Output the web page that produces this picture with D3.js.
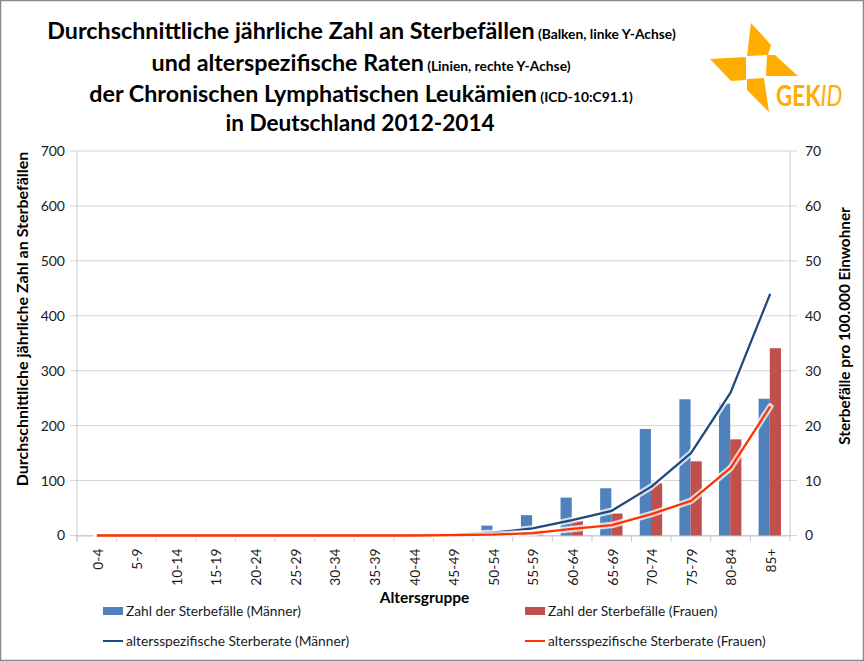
<!DOCTYPE html>
<html><head><meta charset="utf-8">
<script src="https://d3js.org/d3.v7.min.js"></script>
<style>html,body{margin:0;padding:0;background:#fff}svg{display:block}text{font-family:Lato,"Open Sans",sans-serif}</style>
</head><body><svg id="c" width="864" height="661"></svg>
<script>
const categories=["0-4","5-9","10-14","15-19","20-24","25-29","30-34","35-39","40-44","45-49","50-54","55-59","60-64","65-69","70-74","75-79","80-84","85+"];
const barsMen=[0,0,0,0,0,0,0,0,0,3,18,37,69,86,194,248,240,249];
const barsWomen=[0,0,0,0,0,0,0,0,0,1,5,9,26,40,95,135,175,341];
const rateMen=[0,0,0,0,0,0,0,0,0.05,0.15,0.5,1.3,2.8,4.5,8.9,15,26,44];
const rateWomen=[0,0,0,0,0,0,0,0,0,0.05,0.15,0.45,1.2,1.9,3.9,6.3,12.3,23.5];
const leftTicks=[0,100,200,300,400,500,600,700];
const rightTicks=[0,10,20,30,40,50,60,70];
const blue="#4f81bd",red="#c0504d",navy="#1f497d",orange="#ff3300",txt="#1a1a1a";
const svg=d3.select("#c");
const M={l:77,r:790,t:151,b:535.5};
const x=d3.scaleBand().domain(categories).range([M.l,M.r]);
const yL=d3.scaleLinear().domain([0,700]).range([M.b,M.t]);
const yR=d3.scaleLinear().domain([0,70]).range([M.b,M.t]);
svg.append("rect").attr("x",.5).attr("y",.5).attr("width",863).attr("height",660).attr("fill","#fff").attr("stroke","#8a8a8a").attr("stroke-width",1.5);
// grid
svg.append("g").selectAll("line").data(leftTicks).join("line").attr("x1",M.l-7).attr("x2",M.r+7)
 .attr("y1",d=>yL(d)).attr("y2",d=>yL(d)).attr("stroke","#d4d4d4").attr("stroke-width",1);
[M.l,M.r].forEach(v=>svg.append("line").attr("x1",v).attr("x2",v).attr("y1",M.t).attr("y2",M.b+6).attr("stroke","#c8c8c8"));
// x axis
const gx=svg.append("g").attr("transform",`translate(0,${M.b})`).call(d3.axisBottom(x).tickSize(0));
gx.select(".domain").attr("stroke","#c8c8c8");
gx.selectAll("text").attr("transform","rotate(-90)").attr("text-anchor","end").attr("x",-13).attr("y",1).attr("dy","0.35em").attr("font-size",13.8).attr("fill",txt).style("font-family","Lato");
svg.append("g").selectAll("line").data(x.domain()).join("line").attr("x1",d=>x(d)).attr("x2",d=>x(d)).attr("y1",M.b).attr("y2",M.b+6).attr("stroke","#c8c8c8");
// y tick labels
const gl=svg.append("g").attr("transform",`translate(${M.l},0)`).call(d3.axisLeft(yL).tickValues(leftTicks).tickSize(0).tickPadding(12));
gl.select(".domain").remove();gl.selectAll("text").attr("font-size",14).attr("fill",txt).style("font-family","Lato");
const gr=svg.append("g").attr("transform",`translate(${M.r},0)`).call(d3.axisRight(yR).tickValues(rightTicks).tickSize(0).tickPadding(15));
gr.select(".domain").remove();gr.selectAll("text").attr("font-size",14).attr("fill",txt).style("font-family","Lato");
// bars
const bw=11.2;
const bars=(vals,col,off)=>svg.append("g").selectAll("rect").data(vals.map((v,i)=>({v,c:categories[i]})).filter(d=>d.v>0)).join("rect")
 .attr("x",d=>x(d.c)+x.bandwidth()/2+off).attr("width",bw).attr("y",d=>yL(d.v)).attr("height",d=>yL(0)-yL(d.v)).attr("fill",col);
bars(barsMen,blue,-bw-0.4);bars(barsWomen,red,-0.4);
// lines
const ln=d3.line().x((d,i)=>x(categories[i])+x.bandwidth()/2).y(d=>yR(d));
const line=(vals,col)=>{
 svg.append("path").datum(vals).attr("d",ln).attr("fill","none").attr("stroke","#fff").attr("stroke-opacity",.75).attr("stroke-width",6.5).attr("stroke-linejoin","round").attr("stroke-linecap","round");
 svg.append("path").datum(vals).attr("d",ln).attr("fill","none").attr("stroke",col).attr("stroke-width",2.3).attr("stroke-linejoin","round");
};
line(rateMen,navy);line(rateWomen,orange);
// titles
const title=[["Durchschnittliche jährliche Zahl an Sterbefällen"," (Balken, linke Y-Achse)",361.5,39,23.3,13.8],
["und alterspezifische Raten"," (Linien, rechte Y-Achse)",361,71,23.3,13.8],
["der Chronischen Lymphatischen Leukämien"," (ICD-10:C91.1)",361,102,23.3,13.8],
["in Deutschland 2012-2014","",360,131,22.6,13.8]];
title.forEach(t=>{const e=svg.append("text").attr("x",t[2]).attr("y",t[3]).attr("text-anchor","middle").attr("font-weight",700).attr("fill","#000");
 e.append("tspan").attr("font-size",t[4]).text(t[0]);
 if(t[1])e.append("tspan").attr("font-size",t[5]).text(t[1]);});
svg.append("text").attr("transform","translate(28,319) rotate(-90)").attr("text-anchor","middle").attr("font-weight",700).attr("font-size",16).attr("fill","#000").text("Durchschnittliche jährliche Zahl an Sterbefällen");
svg.append("text").attr("transform","translate(850,326) rotate(-90)").attr("text-anchor","middle").attr("font-weight",700).attr("font-size",15.3).attr("fill","#000").text("Sterbefälle pro 100.000 Einwohner");
svg.append("text").attr("x",424.5).attr("y",603).attr("text-anchor","middle").attr("font-weight",700).attr("font-size",15.5).attr("fill","#000").text("Altersgruppe");
// legend
const legend=[["Zahl der Sterbefälle (Männer)",103,611,"b",blue],["Zahl der Sterbefälle (Frauen)",525,611,"b",red],
["altersspezifische Sterberate (Männer)",103,641,"l",navy],["altersspezifische Sterberate (Frauen)",525,641,"l",orange]];
legend.forEach(l=>{
 if(l[3]=="b")svg.append("rect").attr("x",l[1]).attr("y",l[2]-4).attr("width",20).attr("height",8).attr("fill",l[4]);
 else svg.append("line").attr("x1",l[1]).attr("x2",l[1]+20).attr("y1",l[2]).attr("y2",l[2]).attr("stroke",l[4]).attr("stroke-width",2);
 svg.append("text").attr("x",l[1]+23).attr("y",l[2]+4.5).attr("font-size",13.75).attr("fill",txt).text(l[0]);
});
// logo
const logo=svg.append("g").attr("fill","#ffad00");
[[[751,23],[771,45],[768,55],[747,56]],[[710,59],[746,57],[746,80],[731,81]],[[747,79],[764,78],[769,112],[747,90]],[[767,55],[775,55],[798,76],[766,76]]]
.forEach(p=>logo.append("path").attr("d",d3.line()(p)+"Z"));
const lt=svg.append("text").attr("transform","translate(776,106) scale(0.8,1)").attr("font-size",28).attr("font-weight",700).attr("fill","#ffad00");
lt.append("tspan").text("GEK");lt.append("tspan").attr("font-style","italic").attr("font-weight",400).text("ID");
</script></body></html>
